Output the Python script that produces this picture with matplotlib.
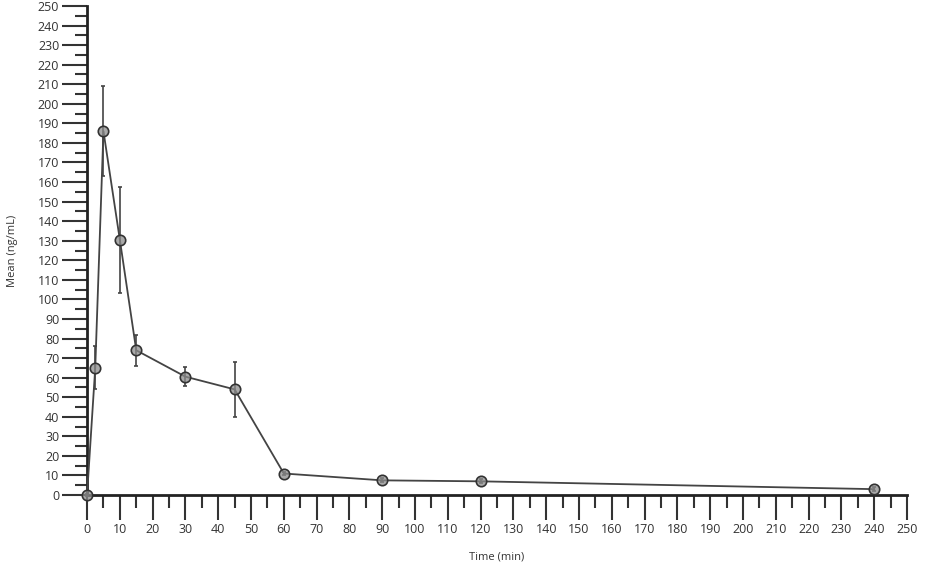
import numpy as np
import matplotlib.pyplot as plt
from matplotlib.ticker import MultipleLocator

# mean concentration over time, with SD error bars
time_min = [0, 2.5, 5, 10, 15, 30, 45, 60, 90, 120, 240]
mean_conc = [0, 65, 186, 130.5, 74, 60.5, 54, 11, 7.5, 7, 3]
sd_conc = [0.5, 11, 23, 27, 8, 5, 14, 1, 1, 1, 1]

plt.rcParams['font.family'] = ['Open Sans', 'DejaVu Sans']

fig = plt.figure(figsize=(9.41, 5.66), dpi=100)
ax = fig.add_axes([0.0925, 0.1254, 0.8714, 0.864])

ax.errorbar(time_min, mean_conc, yerr=sd_conc, color="#444444", lw=1.3,
            elinewidth=1.2, capsize=1.5, capthick=1.0,
            marker="o", ms=7.5, mfc=(0.55, 0.55, 0.55, 0.75), mec="#333333",
            mew=1.2, clip_on=False, zorder=3)

ax.set_xlim(0, 250)
ax.set_ylim(0, 250)
ax.xaxis.set_major_locator(MultipleLocator(10))
ax.xaxis.set_minor_locator(MultipleLocator(5))
ax.yaxis.set_major_locator(MultipleLocator(10))
ax.yaxis.set_minor_locator(MultipleLocator(5))

for side in ("top", "right"):
    ax.spines[side].set_visible(False)
for side in ("left", "bottom"):
    ax.spines[side].set_linewidth(2.0)
    ax.spines[side].set_color("#222222")

ax.tick_params(which="major", length=18, width=1.5, color="#333333",
               labelsize=9, labelcolor="#333333", pad=2)
ax.tick_params(which="minor", length=9, width=1.5, color="#333333")

ax.set_xlabel("Time (min)", fontsize=8, color="#333333", labelpad=11)
ax.set_ylabel("Mean (ng/mL)", fontsize=8, color="#333333", labelpad=14)

fig.savefig("out.png", dpi=100)
